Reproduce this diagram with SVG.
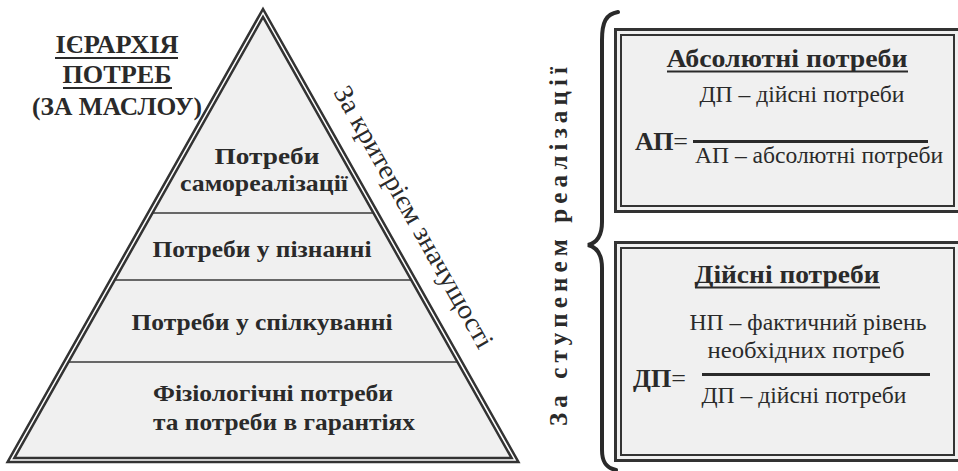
<svg xmlns="http://www.w3.org/2000/svg" width="958" height="471" viewBox="0 0 958 471">
<rect width="958" height="471" fill="#fff"/>
<g id="title" fill="#2a2a2a">
<text font-family="Times New Roman" font-weight="bold" x="117" y="53" font-size="25" text-anchor="middle" textLength="123" lengthAdjust="spacingAndGlyphs">ІЄРАРХІЯ</text>
<line x1="55" y1="58" x2="178" y2="58" stroke="#2a2a2a" stroke-width="2"/>
<text font-family="Times New Roman" font-weight="bold" x="117" y="83" font-size="25" text-anchor="middle" textLength="109" lengthAdjust="spacingAndGlyphs">ПОТРЕБ</text>
<line x1="63" y1="88" x2="172" y2="88" stroke="#2a2a2a" stroke-width="2"/>
<text font-family="Times New Roman" font-weight="bold" x="117" y="115" font-size="25" text-anchor="middle" textLength="170" lengthAdjust="spacingAndGlyphs">(ЗА МАСЛОУ)</text>
</g>
<g id="pyramid">
<polygon points="263,13 11,460 515,460" fill="#f0f0f0"/>
<line x1="150" y1="213" x2="376" y2="213" stroke="#3a3a3a" stroke-width="1.6"/>
<line x1="112" y1="280" x2="414" y2="280" stroke="#3a3a3a" stroke-width="1.6"/>
<line x1="66" y1="362" x2="460" y2="362" stroke="#3a3a3a" stroke-width="1.6"/>
<polygon points="263,13 11,460 515,460" fill="none" stroke="#333" stroke-width="6.5"/>
<polygon points="263,13 11,460 515,460" fill="none" stroke="#fff" stroke-width="1.5"/>
</g>
<g id="level1" fill="#2a2a2a">
<text font-family="Times New Roman" font-weight="bold" x="267" y="164" font-size="23" text-anchor="middle" textLength="105" lengthAdjust="spacingAndGlyphs">Потреби</text>
<text font-family="Times New Roman" font-weight="bold" x="264" y="191" font-size="23" text-anchor="middle" textLength="168" lengthAdjust="spacingAndGlyphs">самореалізації</text>
</g>
<g id="level2" fill="#2a2a2a">
<text font-family="Times New Roman" font-weight="bold" x="262" y="257" font-size="24" text-anchor="middle" textLength="219" lengthAdjust="spacingAndGlyphs">Потреби у пізнанні</text>
</g>
<g id="level3" fill="#2a2a2a">
<text font-family="Times New Roman" font-weight="bold" x="262" y="330" font-size="24" text-anchor="middle" textLength="261" lengthAdjust="spacingAndGlyphs">Потреби у спілкуванні</text>
</g>
<g id="level4" fill="#2a2a2a">
<text font-family="Times New Roman" font-weight="bold" x="273" y="401" font-size="24" text-anchor="middle" textLength="240" lengthAdjust="spacingAndGlyphs">Фізіологічні потреби</text>
<text font-family="Times New Roman" font-weight="bold" x="284" y="430" font-size="24" text-anchor="middle" textLength="262" lengthAdjust="spacingAndGlyphs">та потреби в гарантіях</text>
</g>
<g id="criterion" fill="#2a2a2a">
<text font-family="Times New Roman" font-size="27" transform="translate(333,92) rotate(60.5)" textLength="297" lengthAdjust="spacingAndGlyphs">За критерієм значущості</text>
</g>
<g id="connectors">
<path d="M618,12 C606,14 602,22 602,40 L602,222 C602,236 596,243 588,245 C596,247 602,254 602,268 L602,450 C602,462 606,468 616,470" fill="none" stroke="#2a2a2a" stroke-width="4" stroke-linecap="round"/>
</g>
<g id="realization" fill="#2a2a2a">
<text font-family="Times New Roman" font-weight="bold" font-size="25" transform="translate(567,246.5) rotate(-90)" text-anchor="middle" textLength="359" lengthAdjust="spacing">За ступенем  реалізації</text>
</g>
<g id="absolute" fill="#2a2a2a">
<rect x="615.5" y="29.5" width="345" height="182" fill="#f0f0f0" stroke="#333" stroke-width="3"/>
<rect x="621" y="35" width="333" height="171" fill="none" stroke="#333" stroke-width="2"/>
<text font-family="Times New Roman" font-weight="bold" x="787" y="67" font-size="25" text-anchor="middle" textLength="241" lengthAdjust="spacingAndGlyphs">Абсолютні потреби</text>
<line x1="667" y1="71.5" x2="908" y2="71.5" stroke="#2a2a2a" stroke-width="2"/>
<text font-family="Times New Roman" x="802" y="102" font-size="23" text-anchor="middle" textLength="205" lengthAdjust="spacingAndGlyphs">ДП – дійсні потреби</text>
<text font-family="Times New Roman" x="635" y="150" font-size="26"><tspan font-weight="bold">АП</tspan>=</text>
<line x1="693" y1="141.5" x2="928" y2="141.5" stroke="#2a2a2a" stroke-width="3"/>
<text font-family="Times New Roman" x="819" y="163" font-size="23" text-anchor="middle" textLength="248" lengthAdjust="spacingAndGlyphs">АП – абсолютні потреби</text>
</g>
<g id="actual" fill="#2a2a2a">
<rect x="615.5" y="242.5" width="345" height="218" fill="#f0f0f0" stroke="#333" stroke-width="3"/>
<rect x="621" y="248" width="333" height="207" fill="none" stroke="#333" stroke-width="2"/>
<text font-family="Times New Roman" font-weight="bold" x="787" y="283" font-size="25" text-anchor="middle" textLength="185" lengthAdjust="spacingAndGlyphs">Дійсні потреби</text>
<line x1="695" y1="287.5" x2="880" y2="287.5" stroke="#2a2a2a" stroke-width="2"/>
<text font-family="Times New Roman" x="808" y="330" font-size="23" text-anchor="middle" textLength="237" lengthAdjust="spacingAndGlyphs">НП – фактичний рівень</text>
<text font-family="Times New Roman" x="806" y="358" font-size="23" text-anchor="middle" textLength="197" lengthAdjust="spacingAndGlyphs">необхідних потреб</text>
<text font-family="Times New Roman" x="633" y="387" font-size="26"><tspan font-weight="bold">ДП</tspan>=</text>
<line x1="702" y1="374.5" x2="930" y2="374.5" stroke="#2a2a2a" stroke-width="3"/>
<text font-family="Times New Roman" x="804" y="403" font-size="23" text-anchor="middle" textLength="205" lengthAdjust="spacingAndGlyphs">ДП – дійсні потреби</text>
</g>
</svg>
